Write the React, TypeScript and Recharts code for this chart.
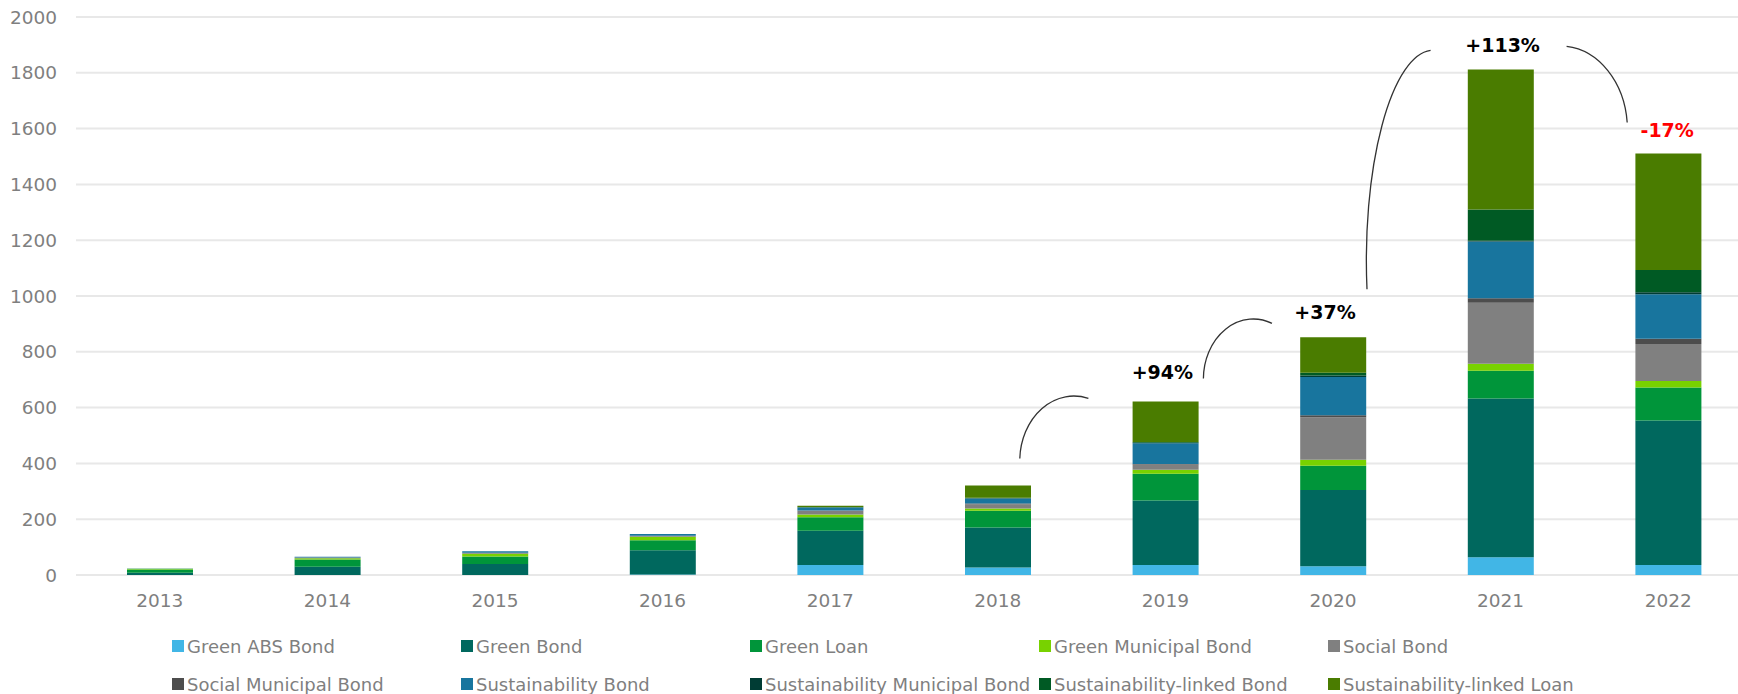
import React from "react";
import { BarChart, Bar, XAxis, YAxis, CartesianGrid } from "recharts";

const years = ["2013", "2014", "2015", "2016", "2017", "2018", "2019", "2020", "2021", "2022"];

const greenAbsBond = [0, 0, 0, 2, 36, 27, 36, 31, 64, 36];
const greenBond = [8, 30, 39, 87, 123, 143, 231, 274, 569, 518];
const greenLoan = [12, 26, 27, 36, 48, 60, 96, 87, 99, 118];
const greenMunicipalBond = [2, 4, 10, 12, 10, 8, 14, 21, 25, 23];
const socialBond = [0, 3, 4, 4, 14, 16, 19, 152, 219, 133];
const socialMunicipalBond = [0, 0, 0, 0, 0, 2, 2, 8, 16, 19];
const sustainabilityBond = [1, 2, 5, 6, 12, 18, 74, 137, 203, 159];
const sustainabilityMunicipalBond = [0, 0, 0, 0, 0, 1, 2, 5, 3, 7];
const sustainabilityLinkedBond = [0, 0, 0, 0, 0, 2, 3, 10, 112, 80];
const sustainabilityLinkedLoan = [0, 0, 0, 0, 5, 44, 145, 127, 502, 418];

const growthLabels = ["", "", "", "", "", "", "+94%", "+37%", "+113%", "-17%"];

const yTicks = [0, 200, 400, 600, 800, 1000, 1200, 1400, 1600, 1800, 2000];

const series = [
  { key: "greenAbsBond", name: "Green ABS Bond", color: "#41b6e6", values: greenAbsBond },
  { key: "greenBond", name: "Green Bond", color: "#00685e", values: greenBond },
  { key: "greenLoan", name: "Green Loan", color: "#00953a", values: greenLoan },
  { key: "greenMunicipalBond", name: "Green Municipal Bond", color: "#78d200", values: greenMunicipalBond },
  { key: "socialBond", name: "Social Bond", color: "#808080", values: socialBond },
  { key: "socialMunicipalBond", name: "Social Municipal Bond", color: "#4d4d4d", values: socialMunicipalBond },
  { key: "sustainabilityBond", name: "Sustainability Bond", color: "#18759e", values: sustainabilityBond },
  { key: "sustainabilityMunicipalBond", name: "Sustainability Municipal Bond", color: "#003c34", values: sustainabilityMunicipalBond },
  { key: "sustainabilityLinkedBond", name: "Sustainability-linked Bond", color: "#005a24", values: sustainabilityLinkedBond },
  { key: "sustainabilityLinkedLoan", name: "Sustainability-linked Loan", color: "#4a7c00", values: sustainabilityLinkedLoan },
];

const data = years.map((year, i) => {
  const row: Record<string, string | number> = { year };
  series.forEach((s) => (row[s.key] = s.values[i]));
  return row;
});

const totals = years.map((_, i) => series.reduce((sum, s) => sum + s.values[i], 0));

// layout
const CHART_W = 1760;
const CHART_H = 640;
const Y_AXIS_W = 76;
const MARGIN = { top: 17, right: 8, left: 0, bottom: 25 };
const X_AXIS_H = 40;
const PLOT_H = CHART_H - MARGIN.top - MARGIN.bottom - X_AXIS_H;
const STEP = (CHART_W - Y_AXIS_W - MARGIN.left - MARGIN.right) / years.length;
const Y_MAX = 2000;
const FONT = "'DejaVu Sans', Verdana, sans-serif";

// same linear/band mapping as the chart's axes, used for the growth call-outs
const xCenter = (i: number) => MARGIN.left + Y_AXIS_W + STEP * (i + 0.5);
const yPos = (v: number) => MARGIN.top + PLOT_H - (v / Y_MAX) * PLOT_H;

// label offset from bar top centre, arc start from previous bar top, arc end from this bar top
const annotationShapes: Record<number, { lx: number; ly: number; sx: number; sy: number; ex: number; ey: number; rx: number; ry: number }> = {
  6: { lx: -3, ly: -29, sx: 22, sy: -27, ex: -77, ey: -3, rx: 54, ry: 65 },
  7: { lx: -8, ly: -25, sx: 38, sy: -23, ex: -61, ey: -14, rx: 50, ry: 60 },
  8: { lx: 2, ly: -24, sx: 34, sy: -48, ex: -70, ey: -19, rx: 67, ry: 210 },
  9: { lx: -1, ly: -23, sx: 66, sy: -23, ex: -41, ey: -31, rx: 67, ry: 84 },
};

function GrowthCallouts() {
  return (
    <svg
      width={CHART_W}
      height={CHART_H}
      style={{ position: "absolute", left: 0, top: 0, pointerEvents: "none" }}
    >
      {growthLabels.map((label, i) => {
        const shape = annotationShapes[i];
        if (!label || !shape) return null;
        const cx = xCenter(i);
        const top = yPos(totals[i]);
        const sx = xCenter(i - 1) + shape.sx;
        const sy = yPos(totals[i - 1]) + shape.sy;
        const ex = cx + shape.ex;
        const ey = top + shape.ey;
        return (
          <g key={label}>
            <path
              d={`M ${sx} ${sy} A ${shape.rx} ${shape.ry} 0 0 1 ${ex} ${ey}`}
              fill="none"
              stroke="#333333"
              strokeWidth={1.3}
            />
            <text
              x={cx + shape.lx}
              y={top + shape.ly}
              textAnchor="middle"
              dominantBaseline="central"
              fontFamily={FONT}
              fontWeight="bold"
              fontSize={19}
              fill={label.startsWith("-") ? "#ff0000" : "#000000"}
            >
              {label}
            </text>
          </g>
        );
      })}
    </svg>
  );
}

const LEGEND_LEFT = 172;
const LEGEND_COL = 289;
const LEGEND_ROW_Y = [646, 684];

export default function App() {
  return (
    <div
      style={{
        position: "absolute",
        left: 0,
        top: 0,
        width: 1738,
        height: 694,
        overflow: "hidden",
        background: "#ffffff",
      }}
    >
      <BarChart width={CHART_W} height={CHART_H} data={data} margin={MARGIN}>
        <CartesianGrid vertical={false} stroke="#e8e8e8" strokeWidth={2} />
        <XAxis
          dataKey="year"
          height={X_AXIS_H}
          axisLine={false}
          tickLine={false}
          tickSize={0}
          tickMargin={19}
          tick={{ fontSize: 18.5, fill: "#7f7f7f", fontFamily: FONT }}
        />
        <YAxis
          width={Y_AXIS_W}
          domain={[0, Y_MAX]}
          ticks={yTicks}
          axisLine={false}
          tickLine={false}
          tickSize={0}
          tickMargin={19}
          tick={{ fontSize: 18.5, fill: "#7f7f7f", fontFamily: FONT }}
        />
        {series.map((s) => (
          <Bar
            key={s.key}
            dataKey={s.key}
            name={s.name}
            stackId="total"
            fill={s.color}
            barSize={66}
            isAnimationActive={false}
          />
        ))}
      </BarChart>
      <GrowthCallouts />
      {series.map((s, i) => {
        const col = i % 5;
        const row = Math.floor(i / 5);
        return (
          <div
            key={s.key}
            style={{
              position: "absolute",
              left: LEGEND_LEFT + col * LEGEND_COL,
              top: LEGEND_ROW_Y[row] - 11,
              height: 22,
              display: "flex",
              alignItems: "center",
              fontFamily: FONT,
              fontSize: 18,
              color: "#7f7f7f",
              whiteSpace: "nowrap",
            }}
          >
            <span style={{ display: "inline-block", width: 12, height: 12, background: s.color, marginRight: 3 }} />
            <span>{s.name}</span>
          </div>
        );
      })}
    </div>
  );
}
